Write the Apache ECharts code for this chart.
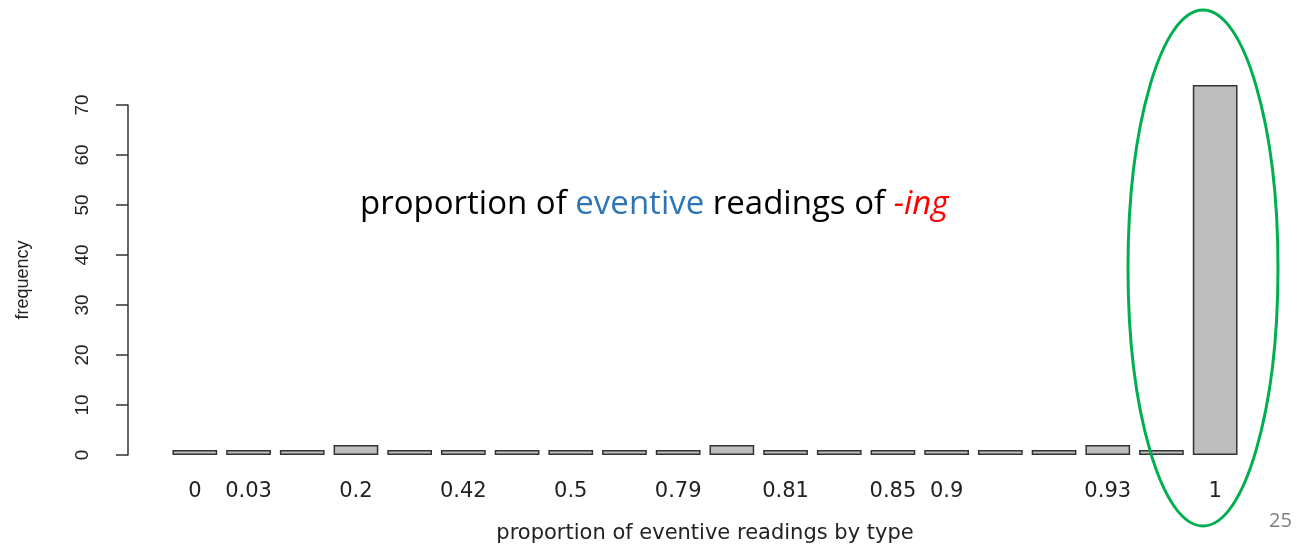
<!DOCTYPE html>
<html><head><meta charset="utf-8">
<script src="https://cdn.jsdelivr.net/npm/echarts@6/dist/echarts.min.js"></script>
<style>html,body{margin:0;padding:0;background:#fff}#c{width:1303px;height:551px}</style>
</head><body><div id="c"></div>
<script>
// proportion categories (labels not printed in the original are estimated)
const categories = ['0','0.03','0.1','0.2','0.33','0.42','0.45','0.5','0.67','0.79','0.8','0.81','0.83','0.85','0.9','0.91','0.92','0.93','0.96','1'];
// indices of category labels that are actually printed in the reference
const shownLabels = [0,1,3,5,7,9,11,13,14,17,19];
const frequency = [1,1,1,2,1,1,1,1,1,1,2,1,1,1,1,1,1,2,1,74];
const yTicks = {min:0, max:70, interval:10};

const chart = echarts.init(document.getElementById('c'));
chart.setOption({
  animation:false,
  backgroundColor:'#fff',
  title:{
    text:'{a|proportion of }{b|eventive}{a| readings of }{c|-ing}',
    left:355, top:183,
    textStyle:{
      rich:{
        a:{fontFamily:'Open Sans', fontSize:33, fontWeight:'normal', color:'#000'},
        b:{fontFamily:'Open Sans', fontSize:33, fontWeight:'normal', color:'#2e75b6'},
        c:{fontFamily:'Open Sans', fontSize:33, fontWeight:'normal', color:'#ff0000', fontStyle:'italic'}
      }
    }
  },
  grid:{left:168, right:61, top:105, bottom:96},
  xAxis:{
    type:'category', data:categories,
    axisLine:{show:false}, axisTick:{show:false},
    axisLabel:{
      interval:(i)=>shownLabels.includes(i),
      margin:26, fontFamily:'DejaVu Sans', fontSize:21, color:'#222'
    },
    name:'proportion of eventive readings by type',
    nameLocation:'middle', nameGap:68,
    nameTextStyle:{fontFamily:'DejaVu Sans', fontSize:21, color:'#222'}
  },
  yAxis:{
    type:'value', min:yTicks.min, max:yTicks.max, interval:yTicks.interval,
    offset:40,
    splitLine:{show:false},
    axisLine:{show:true, lineStyle:{color:'#333', width:1.5}},
    axisTick:{show:true, length:12, lineStyle:{color:'#333', width:1.5}},
    axisLabel:{rotate:90, margin:36, fontFamily:'Liberation Sans', fontSize:19, color:'#222'},
    name:'frequency', nameLocation:'middle', nameGap:96, nameRotate:90,
    nameTextStyle:{fontFamily:'Liberation Sans', fontSize:18, color:'#222'}
  },
  series:[{
    type:'bar', data:frequency, clip:false,
    barCategoryGap:'16.7%',
    itemStyle:{color:'#bebebe', borderColor:'#333', borderWidth:1.5}
  }],
  graphic:[
    {type:'ellipse', shape:{cx:1203, cy:268, rx:75, ry:258},
     style:{fill:null, stroke:'#00b050', lineWidth:3}, z:100},
    {type:'text', left:1269, top:511,
     style:{text:'25', fontFamily:'Open Sans', fontSize:20, fill:'#7f7f7f'}}
  ]
});
</script></body></html>
